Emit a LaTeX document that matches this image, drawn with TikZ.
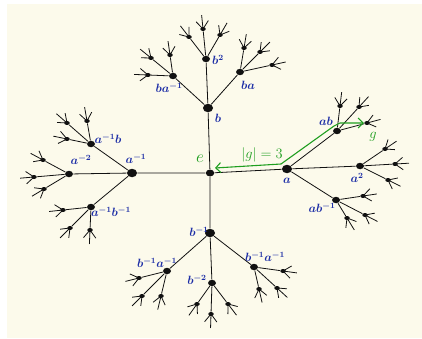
\documentclass[tikz,border=0pt]{standalone}
\usetikzlibrary{arrows.meta,calc,shapes.geometric}
\definecolor{paper}{HTML}{FCFAEB}
\definecolor{ink}{HTML}{111111}
\definecolor{pen}{HTML}{1C2DA6}
\definecolor{marker}{HTML}{1F9E1F}

\begin{document}
\begin{tikzpicture}[x=1pt,y=-1pt,line width=.8pt,draw=ink,
  vtx/.style={ellipse,fill=ink,inner sep=0pt,minimum width=#1,minimum height=#1-1.5pt},
  lbl/.style={text=pen,font=\large\boldmath,inner sep=0pt},
  gr/.style={text=marker,inner sep=0pt}]
  \useasboundingbox (0,0) rectangle (422,339);
  \fill[white] (0,0) rectangle (422,339);
  \fill[paper] (7,4) rectangle (422,338);

  % identity and the four generators
  \node[vtx=8.5pt] (e) at (210,173) {};
  \node[vtx=10pt] (a) at (287,169) {};
  \node[vtx=10pt] (ai) at (132,173) {};
  \node[vtx=10pt] (b) at (208,108) {};
  \node[vtx=10pt] (bi) at (210,233) {};
  \draw (e) -- (a) (e) -- (ai) (e) -- (b) (e) -- (bi);

  % second layer
  \foreach \u/\v/\px/\py in {a/a2/360/166, a/ab/337/131, a/abi/336/200,
      ai/ai2/69/174, ai/aib/91/144, ai/aibi/91/207,
      b/b2/206/59, b/ba/240/72, b/bai/173/76,
      bi/bi2/212/283, bi/bia/254/267, bi/biai/167/271}
  {
    \node[vtx=8pt] (\v) at (\px,\py) {};
    \draw (\u) -- (\v);
  }

  % third layer, with the stubs that go on outwards
  \foreach \u/\i/\px/\py in {a2/1/385/149, a2/2/395/164, a2/3/388/180,
      ab/1/340/106, ab/2/359/107, ab/3/367/123,
      abi/1/363/196, abi/2/365/215, abi/3/347/218,
      ai2/1/43/160, ai2/2/34/177, ai2/3/44/189,
      aib/1/67/123, aib/2/87/121, aib/3/67/139,
      aibi/1/63/210, aibi/2/70/228, aibi/3/90/230,
      b2/1/189/37, b2/2/203/29, b2/3/220/35,
      ba/1/244/48, ba/2/260/52, ba/3/272/65,
      bai/1/151/58, bai/2/170/55, bai/3/148/75,
      bi2/1/197/304, bi2/2/211/314, bi2/3/228/304,
      bia/1/283/271, bia/2/277/288, bia/3/259/289,
      biai/1/139/278, biai/2/142/296, biai/3/161/296}
  {
    \node[vtx=5.5pt] (\u\i) at (\px,\py) {};
    \draw (\u) -- (\u\i);
    \draw let \p1=($(\u\i)-(\u)$), \n1={atan2(\y1,\x1)} in
      (\u\i.center) -- ++(\n1:14pt)
      (\u\i.center) -- ++(\n1+38:10pt)
      (\u\i.center) -- ++(\n1-38:10pt);
  }

  % labels
  \node[gr,font=\LARGE] (le) at (200,159) {$e$};
  \node[lbl] (lb) at (218,118) {$b$};
  \node[lbl] (lb2) at (218,60) {$b^2$};
  \node[lbl] (lba) at (248,85) {$ba$};
  \node[lbl] (lbai) at (169,88) {$ba^{-1}$};
  \node[lbl] (lai) at (136,159) {$a^{-1}$};
  \node[lbl] (lai2) at (81,160) {$a^{-2}$};
  \node[lbl] (laib) at (108,139) {$a^{-1}b$};
  \node[lbl] (laibi) at (111,212) {$a^{-1}b^{-1}$};
  \node[lbl] (la) at (287,181) {$a$};
  \node[lbl] (la2) at (357,178) {$a^2$};
  \node[lbl] (lab) at (326,121) {$ab$};
  \node[lbl] (labi) at (322,208) {$ab^{-1}$};
  \node[lbl] (lbi) at (199,232) {$b^{-1}$};
  \node[lbl] (lbi2) at (197,280) {$b^{-2}$};
  \node[lbl] (lbiai) at (157,263) {$b^{-1}a^{-1}$};
  \node[lbl] (lbia) at (265,257) {$b^{-1}a^{-1}$};

  % the word g and its length
  \coordinate (gs) at (215,168);
  \coordinate (gk1) at (281,164);
  \coordinate (gk2) at (334,126);
  \coordinate (gk3) at (340,123);
  \draw[marker,line width=1.1pt,{Straight Barb[length=5pt,width=10pt]}-{Straight Barb[length=5pt,width=10pt]}]
    (gs) -- (gk1) -- (gk2) -- (gk3) -- (ab3);
  \node[gr,font=\Large] (lg) at (373,137) {$g$};
  \node[gr,font=\Large] (lnorm) at (262,155) {$|g|=3$};
\end{tikzpicture}
\end{document}
